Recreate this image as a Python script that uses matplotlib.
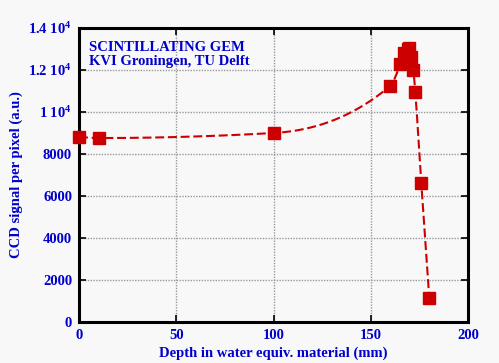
import numpy as np
import matplotlib
matplotlib.use("Agg")
import matplotlib.pyplot as plt

depth = [0, 10.3, 100, 160, 165.2, 167.3, 169.0, 169.7, 170.8, 171.9, 172.9, 176.0, 180.1]
signal = [8810, 8760, 9000, 11240, 12270, 12800, 12990, 13030, 12600, 12000, 10940, 6600, 1130]
yticks = [0, 2000, 4000, 6000, 8000, 10000, 12000, 14000]
ytick_labels = ["0", "2000", "4000", "6000", "8000", "1 10$^4$", "1.2 10$^4$", "1.4 10$^4$"]
xticks = [0, 50, 100, 150, 200]

plt.rcParams.update({
    "font.family": "Liberation Serif",
    "font.weight": "bold",
    "mathtext.fontset": "custom",
    "mathtext.rm": "Liberation Serif:bold",
    "mathtext.it": "Liberation Serif:bold",
    "mathtext.bf": "Liberation Serif:bold",
})

blue = "#0000CC"
red = "#CC0000"
bg = "#F8F8F8"


def pchip(x, y, xn):
    x = np.asarray(x, float); y = np.asarray(y, float)
    h = np.diff(x); d = np.diff(y) / h
    n = len(x)
    m = np.zeros(n)
    for k in range(1, n-1):
        if d[k-1]*d[k] > 0:
            w1 = 2*h[k] + h[k-1]; w2 = h[k] + 2*h[k-1]
            m[k] = (w1 + w2) / (w1/d[k-1] + w2/d[k])
    m[0] = d[0]; m[-1] = d[-1]
    out = np.empty_like(xn)
    idx = np.clip(np.searchsorted(x, xn) - 1, 0, n-2)
    for j, (xv, k) in enumerate(zip(xn, idx)):
        t = (xv - x[k]) / h[k]
        h00 = 2*t**3 - 3*t**2 + 1; h10 = t**3 - 2*t**2 + t
        h01 = -2*t**3 + 3*t**2; h11 = t**3 - t**2
        out[j] = h00*y[k] + h10*h[k]*m[k] + h01*y[k+1] + h11*h[k]*m[k+1]
    return out


fig = plt.figure(figsize=(4.99, 3.63), dpi=100, facecolor=bg)
ax = fig.add_axes([79/499, 41/363, 389/499, 294/363])
ax.set_facecolor(bg)
ax.set_xlim(0, 200)
ax.set_ylim(0, 14000)

cx = np.linspace(depth[0], depth[-1], 1200)
cy = pchip(depth, signal, cx)

ax.plot(cx, cy, color=red, lw=1.5, dashes=(4.3, 1.8), zorder=3)
ax.plot(depth, signal, linestyle="none", marker="s", ms=8, color=red, clip_on=False, zorder=4)

ax.set_xticks(xticks)
ax.set_yticks(yticks)
ax.set_yticklabels(ytick_labels)
ax.grid(True, color="#999999", linestyle=(0, (1, 1)), lw=1.0)
ax.tick_params(direction="in", length=5, width=1.2, top=True, right=True,
               labelcolor=blue, labelsize=10.5, pad=5)
for s in ax.spines.values():
    s.set_linewidth(2.2)
for lab in ax.get_xticklabels() + ax.get_yticklabels():
    lab.set_fontweight("bold")

ax.set_xlabel("Depth in water equiv. material (mm)", color=blue, fontsize=10.5, fontweight="bold", labelpad=3)
ax.set_ylabel("CCD signal per pixel (a.u.)", color=blue, fontsize=10.5, fontweight="bold", labelpad=4)

ax.text(0.025, 0.955, "SCINTILLATING GEM\nKVI Groningen, TU Delft", transform=ax.transAxes,
        color=blue, fontsize=10.5, fontweight="bold", va="top", ha="left", linespacing=1.1)

fig.savefig("out.png", dpi=100, facecolor=bg)
